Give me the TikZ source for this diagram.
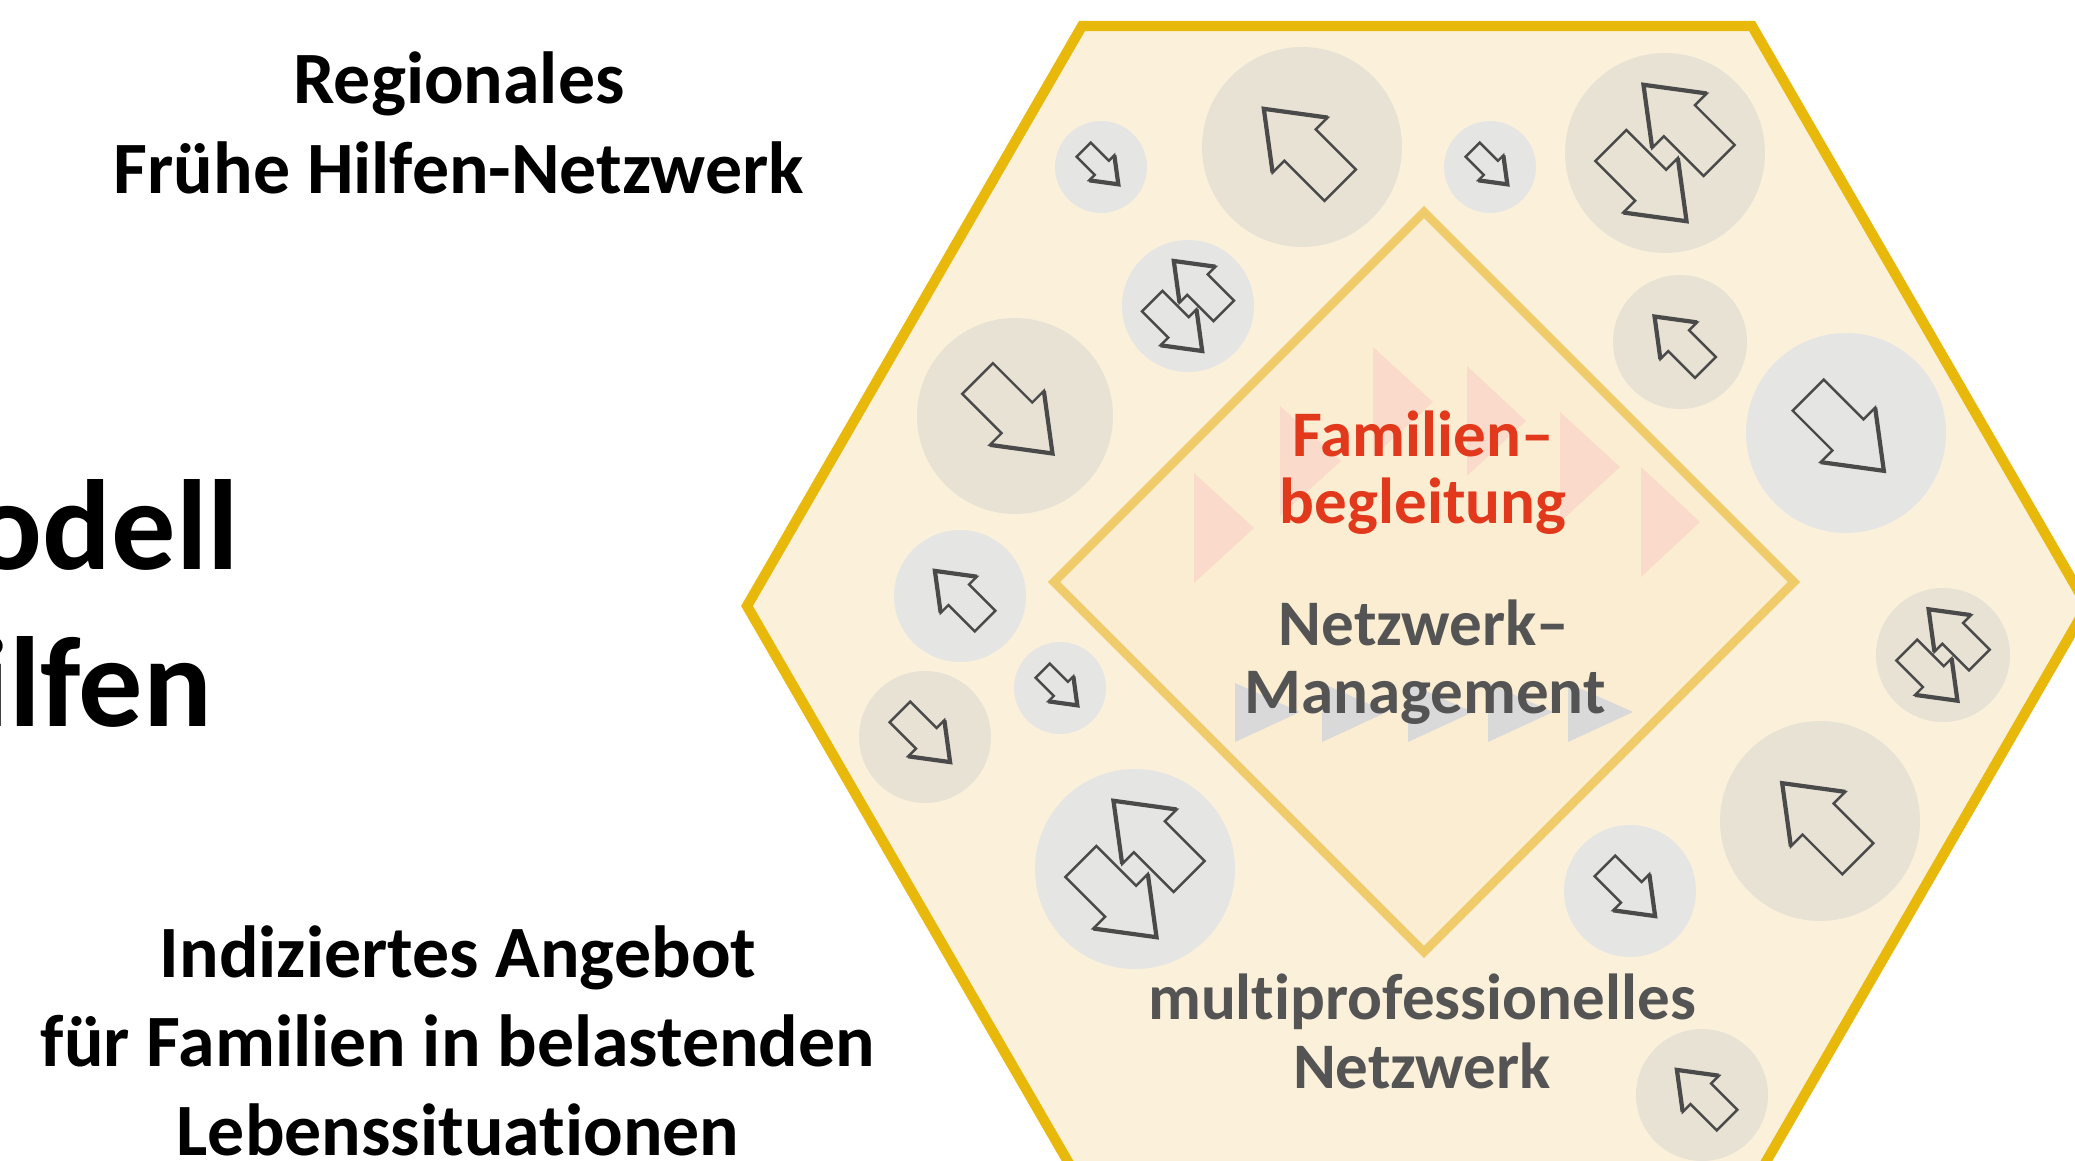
\documentclass[tikz,border=0pt]{standalone}
\usepackage{fontspec}
\setmainfont{Carlito}[Ligatures={TeX,NoCommon}]
\usepackage{tikz}

\definecolor{hexgelb}{HTML}{E8B80A}
\definecolor{hexgrund}{HTML}{FBF1DB}
\definecolor{rautenrand}{HTML}{EFCB6A}
\definecolor{rautengrund}{HTML}{FAEDD2}
\definecolor{kreiswarm}{HTML}{E8E2D5}
\definecolor{kreiskalt}{HTML}{E5E5E3}
\definecolor{pfeilgrau}{HTML}{4A4A4A}
\definecolor{rosa}{HTML}{FADACA}
\definecolor{hellgrau}{HTML}{D9D9D9}
\definecolor{famrot}{HTML}{E2381B}
\definecolor{textgrau}{HTML}{545454}

\tikzstyle{hexrand} = [draw=hexgelb, line width=2.9pt, fill=hexgrund, line join=miter]
\tikzstyle{raute} = [draw=rautenrand, line width=2.5pt, fill=rautengrund, line join=miter]
\tikzstyle{pfeilrand} = [draw=pfeilgrau, line width=0.7pt, line join=miter]
\tikzstyle{pfeilspitze} = [draw=pfeilgrau, line width=1.2pt, line join=miter]
\tikzstyle{titel} = [font=\fontsize{21}{25.5}\selectfont\bfseries, anchor=base, inner sep=0pt]
\tikzstyle{gross} = [font=\fontsize{36.5}{44}\selectfont\bfseries, anchor=base east, inner sep=0pt]
\tikzstyle{innen} = [font=\fontsize{18.5}{19.6}\selectfont\bfseries, anchor=base, inner sep=0pt]

% block arrow: x, y, angle, length, fill
\newcommand{\pfeil}[5]{%
  \begin{scope}[shift={(#1,#2)}, rotate=#3, scale=#4]
    \filldraw[pfeilrand, fill=#5] (-0.5,-0.205) -- (0.025,-0.205) -- (0.025,-0.36) -- (0.5,0)
      -- (0.025,0.36) -- (0.025,0.205) -- (-0.5,0.205) -- cycle;
    \draw[pfeilspitze] (0.025,-0.36) -- (0.5,0) -- (0.025,0.36);
  \end{scope}}
% two arrows side by side: x, y, radius, fill
\newcommand{\doppelpfeil}[4]{%
  \pfeil{#1+0.163*#3}{#2+0.304*#3}{135}{1.07*#3}{#4}
  \pfeil{#1-0.163*#3}{#2-0.304*#3}{-45}{1.07*#3}{#4}}

\begin{document}
\begin{tikzpicture}
\useasboundingbox (0,0) rectangle (20.75,-11.61);
\clip (0,0) rectangle (20.75,-11.61);

% left column
\node[titel] (reg1) at (4.59,-1.04) {Regionales};
\node[titel] (reg2) at (4.59,-1.94) {Frühe Hilfen-Netzwerk};
\node[gross] (mod1) at (2.40,-5.70) {odell};
\node[gross] (mod2) at (2.13,-7.26) {ilfen};
\node[titel] (ang1) at (4.58,-9.77) {Indiziertes Angebot};
\node[titel] (ang2) at (4.58,-10.66) {für Familien in belastenden};
\node[titel] (ang3) at (4.58,-11.55) {Lebenssituationen};

% hexagon
\draw[hexrand] (20.87,-6.06) -- (17.52,-0.26) -- (10.82,-0.26) -- (7.47,-6.06)
  -- (10.82,-11.86) -- (17.52,-11.86) -- cycle;

% circles with arrows
\fill[kreiskalt] (11.01,-1.67) circle (0.46);
\pfeil{11.01}{-1.67}{-45}{0.49}{kreiskalt}
\fill[kreiswarm] (13.02,-1.47) circle (1.0);
\pfeil{13.02}{-1.47}{135}{1.08}{kreiswarm}
\fill[kreiskalt] (14.90,-1.67) circle (0.46);
\pfeil{14.90}{-1.67}{-45}{0.49}{kreiskalt}
\fill[kreiswarm] (16.65,-1.53) circle (1.0);
\doppelpfeil{16.65}{-1.53}{1.0}{kreiswarm}
\fill[kreiskalt] (11.88,-3.06) circle (0.66);
\doppelpfeil{11.88}{-3.06}{0.66}{kreiskalt}
\fill[kreiswarm] (16.80,-3.42) circle (0.67);
\pfeil{16.80}{-3.42}{135}{0.72}{kreiswarm}
\fill[kreiswarm] (10.15,-4.16) circle (0.98);
\pfeil{10.15}{-4.16}{-45}{1.06}{kreiswarm}
\fill[kreiskalt] (18.46,-4.33) circle (1.0);
\pfeil{18.46}{-4.33}{-45}{1.07}{kreiskalt}
\fill[kreiskalt] (9.60,-5.96) circle (0.66);
\pfeil{9.60}{-5.96}{135}{0.71}{kreiskalt}
\fill[kreiskalt] (10.60,-6.88) circle (0.46);
\pfeil{10.60}{-6.88}{-45}{0.49}{kreiskalt}
\fill[kreiswarm] (9.25,-7.37) circle (0.66);
\pfeil{9.25}{-7.37}{-45}{0.71}{kreiswarm}
\fill[kreiswarm] (19.43,-6.55) circle (0.67);
\doppelpfeil{19.43}{-6.55}{0.67}{kreiswarm}
\fill[kreiskalt] (11.35,-8.69) circle (1.0);
\doppelpfeil{11.35}{-8.69}{1.0}{kreiskalt}
\fill[kreiswarm] (18.20,-8.21) circle (1.0);
\pfeil{18.20}{-8.21}{135}{1.07}{kreiswarm}
\fill[kreiskalt] (16.30,-8.91) circle (0.66);
\pfeil{16.30}{-8.91}{-45}{0.71}{kreiskalt}
\fill[kreiswarm] (17.02,-10.95) circle (0.66);
\pfeil{17.02}{-10.95}{135}{0.71}{kreiswarm}

% diamond
\draw[raute] (14.24,-2.12) -- (17.94,-5.82) -- (14.24,-9.52) -- (10.54,-5.82) -- cycle;

% pale triangles behind the text
\fill[rosa] (11.94,-4.73) -- (12.54,-5.28) -- (11.94,-5.83) -- cycle;
\fill[rosa] (12.80,-4.06) -- (13.41,-4.61) -- (12.80,-5.16) -- cycle;
\fill[rosa] (13.73,-3.47) -- (14.33,-4.02) -- (13.73,-4.57) -- cycle;
\fill[rosa] (14.67,-3.66) -- (15.26,-4.21) -- (14.67,-4.76) -- cycle;
\fill[rosa] (15.60,-4.12) -- (16.20,-4.67) -- (15.60,-5.22) -- cycle;
\fill[rosa] (16.41,-4.67) -- (17.00,-5.22) -- (16.41,-5.77) -- cycle;
\fill[hellgrau] (12.35,-6.83) -- (13.00,-7.12) -- (12.35,-7.42) -- cycle;
\fill[hellgrau] (13.22,-6.83) -- (13.87,-7.12) -- (13.22,-7.42) -- cycle;
\fill[hellgrau] (14.08,-6.83) -- (14.73,-7.12) -- (14.08,-7.42) -- cycle;
\fill[hellgrau] (14.88,-6.83) -- (15.53,-7.12) -- (14.88,-7.42) -- cycle;
\fill[hellgrau] (15.68,-6.83) -- (16.33,-7.12) -- (15.68,-7.42) -- cycle;

% labels inside
\node[innen, text=famrot] (fam1) at (14.23,-4.57) {Familien–};
\node[innen, text=famrot] (fam2) at (14.23,-5.24) {begleitung};
\node[innen, text=textgrau] (nm1) at (14.24,-6.45) {Netzwerk–};
\node[innen, text=textgrau] (nm2) at (14.25,-7.13) {Management};
\node[innen, text=textgrau] (mp1) at (14.22,-10.19) {multiprofessionelles};
\node[innen, text=textgrau] (mp2) at (14.22,-10.88) {Netzwerk};

\end{tikzpicture}
\end{document}
